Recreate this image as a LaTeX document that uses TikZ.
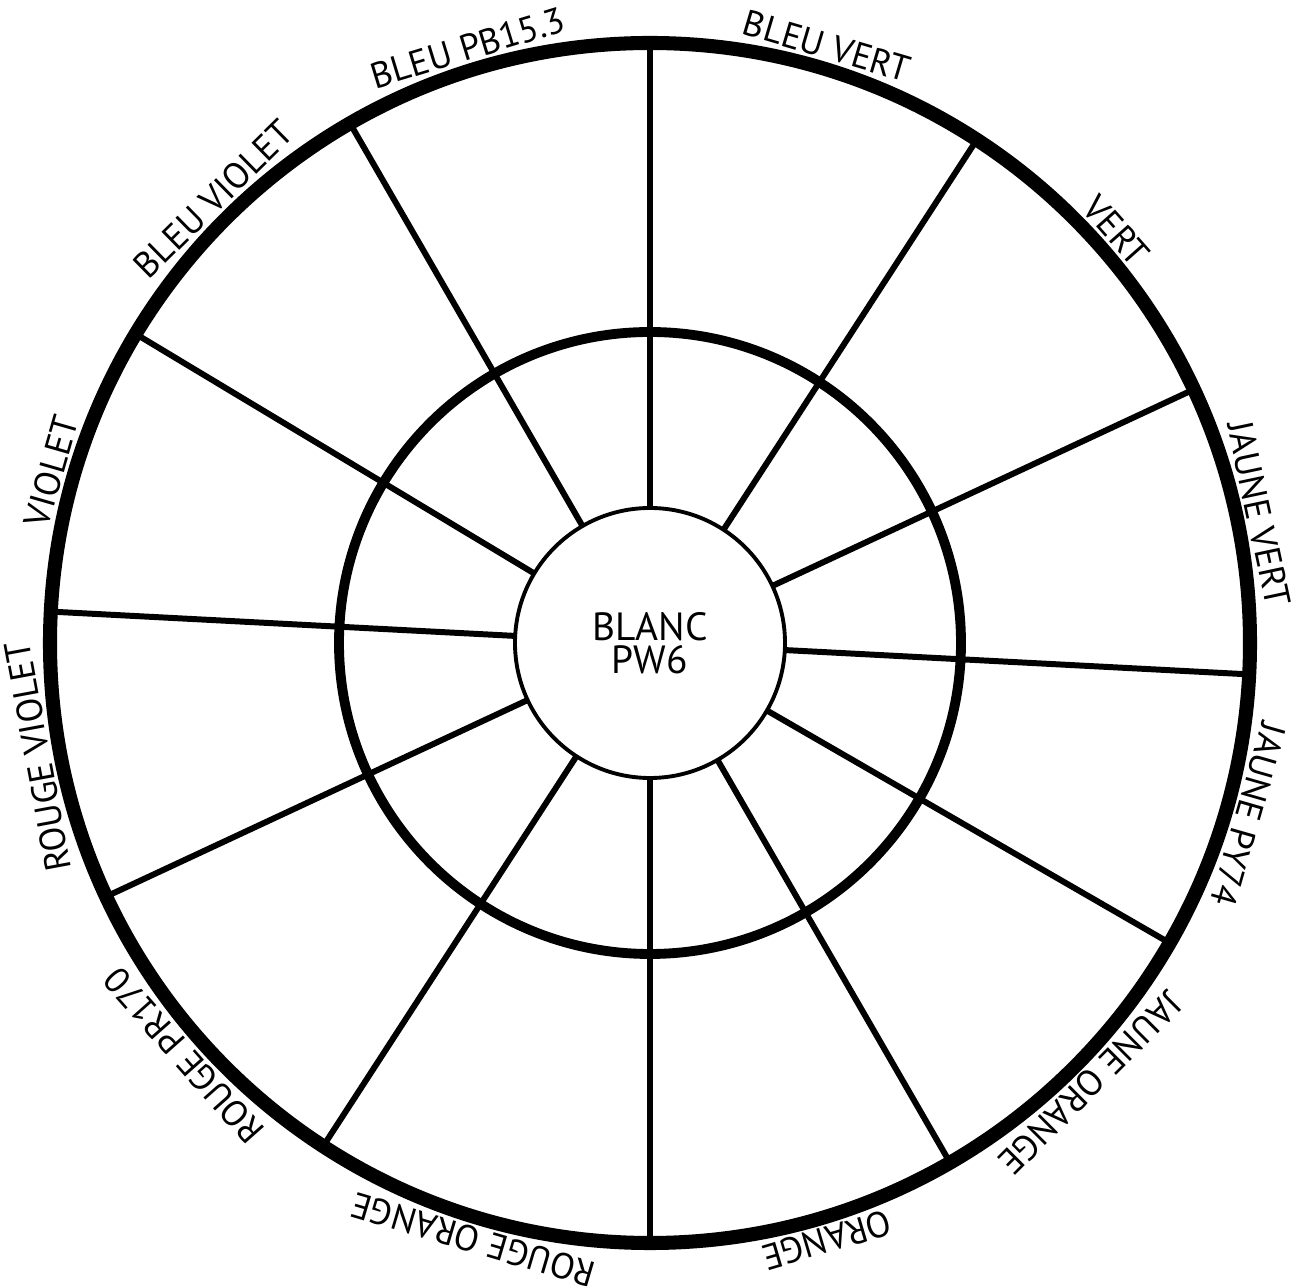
\documentclass[tikz,border=0pt]{standalone}
\usepackage{fontspec}
\setmainfont{PT Sans}
\usepackage{xcolor}
\usepackage{tikz}
\usetikzlibrary{positioning}

\begin{document}
\begin{tikzpicture}[
  every node/.style={font=\fontsize{10.3}{12}\selectfont,align=center},
  rim/.style   ={circle,draw=black,line width=4pt,minimum size=12cm,inner sep=0pt,outer sep=0pt},
  ring/.style  ={circle,draw=black,line width=2.8pt,minimum size=6.22cm,inner sep=0pt,outer sep=0pt},
  hub/.style   ={circle,draw=black,line width=1.1pt,minimum size=2.7cm,inner sep=0pt,outer sep=0pt,
                 font=\fontsize{11.2}{9.4}\selectfont},
  spoke/.style ={line width=1.7pt,black},
  lab/.style   ={anchor=base,inner sep=0pt,outer sep=0pt},
]
\useasboundingbox (-6.50,-6.45) rectangle (6.52,6.43);

\node[rim]  at (0,0) (rim)   {};
\node[ring] at (0,0) (ring)  {};
\node[hub]  at (0,0) (blanc) {BLANC\\PW6};

\draw[spoke] (rim.90)    -- (blanc.90);
\draw[spoke] (rim.57.5)  -- (blanc.57.5);
\draw[spoke] (rim.25)    -- (blanc.25);
\draw[spoke] (rim.-3)    -- (blanc.-3);
\draw[spoke] (rim.-30.5) -- (blanc.-30.5);
\draw[spoke] (rim.-60)   -- (blanc.-60);
\draw[spoke] (rim.-90)   -- (blanc.-90);
\draw[spoke] (rim.237.5) -- (blanc.237.5);
\draw[spoke] (rim.205)   -- (blanc.205);
\draw[spoke] (rim.177)   -- (blanc.177);
\draw[spoke] (rim.149.5) -- (blanc.149.5);
\draw[spoke] (rim.120)   -- (blanc.120);

\node[lab,rotate=17]     at (107:6.10)    (bleupb)   {BLEU PB15.3};
\node[lab,rotate=-16.5]  at (73.5:6.10)   (bleuvert) {BLEU VERT};
\node[lab,rotate=-48.5]  at (41.5:6.10)   (vert)     {VERT};
\node[lab,rotate=-78]    at (12:6.10)     (jvert)    {JAUNE VERT};
\node[lab,rotate=-106]   at (-16:6.10)    (jpy)      {JAUNE PY74};
\node[lab,rotate=-135]   at (-45:6.10)    (jorange)  {JAUNE ORANGE};
\node[lab,rotate=-163.5] at (-73.5:6.10)  (orange)   {ORANGE};
\node[lab,rotate=163.5]  at (253.5:6.10)  (rorange)  {ROUGE ORANGE};
\node[lab,rotate=131.5]  at (221.5:6.10)  (rpr)      {ROUGE PR170};
\node[lab,rotate=100.5]  at (190.5:6.10)  (rviolet)  {ROUGE VIOLET};
\node[lab,rotate=74]     at (164:6.10)    (violet)   {VIOLET};
\node[lab,rotate=44.5]   at (134.5:6.10)  (bviolet)  {BLEU VIOLET};
\end{tikzpicture}
\end{document}
